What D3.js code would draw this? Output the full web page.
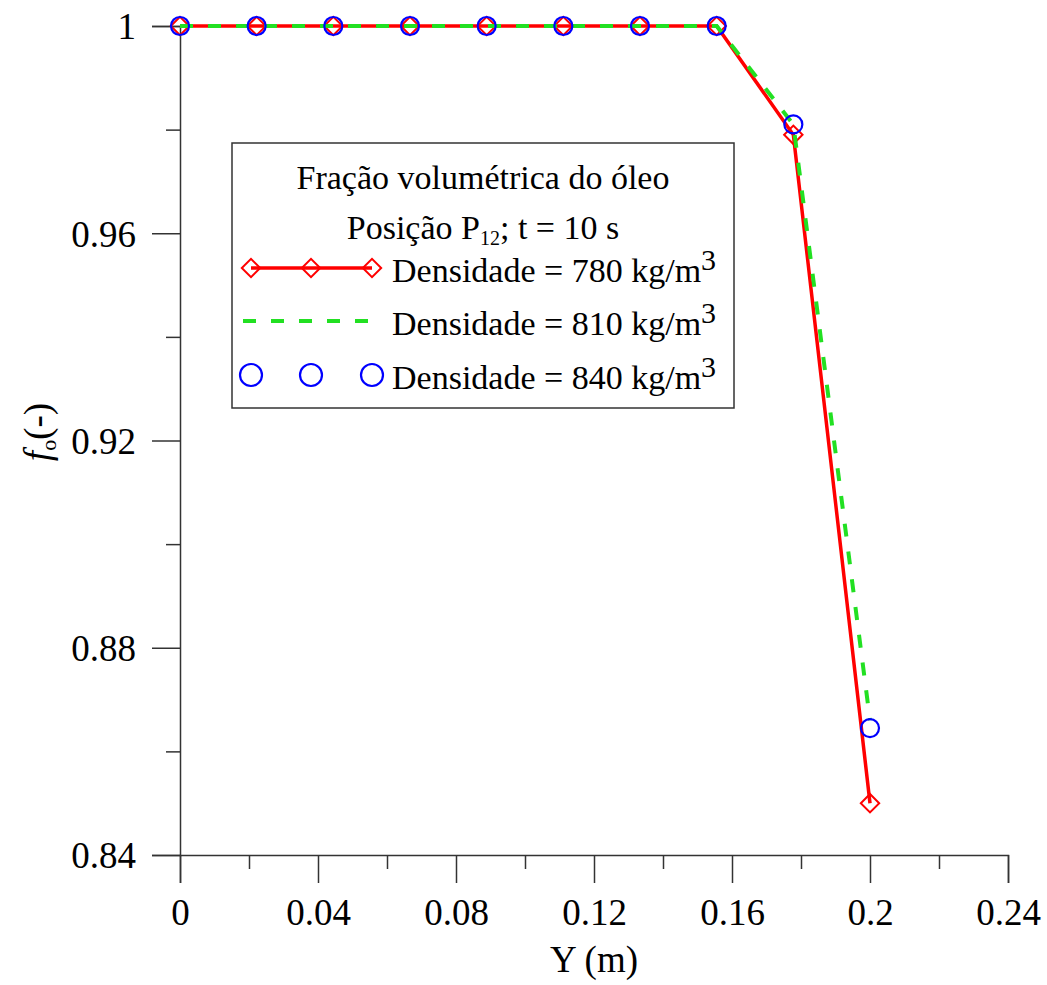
<!DOCTYPE html>
<html><head><meta charset="utf-8">
<script src="https://cdn.jsdelivr.net/npm/d3@7"></script>
<style>body{margin:0;background:#fff}svg text{font-family:"Liberation Serif","Times New Roman",serif;fill:#000}</style>
</head><body><svg id="c" width="1047" height="985"></svg>
<script>
const yPos = [0, 0.02222, 0.04444, 0.06667, 0.08889, 0.11111, 0.13333, 0.15556, 0.17778, 0.2];
const f780 = [1, 1, 1, 1, 1, 1, 1, 1, 0.979, 0.85];
const f810 = [1, 1, 1, 1, 1, 1, 1, 1, 0.981, 0.866];
const f840 = [1, 1, 1, 1, 1, 1, 1, 1, 0.981, 0.8645];
const xTicks = [0, 0.04, 0.08, 0.12, 0.16, 0.2, 0.24];
const xMinor = [0.02, 0.06, 0.1, 0.14, 0.18, 0.22];
const yTicks = [0.84, 0.88, 0.92, 0.96, 1];
const yMinor = [0.86, 0.9, 0.94, 0.98];
const legendTitle = ["Fração volumétrica do óleo", "Posição P", "12", "; t = 10 s"];
const seriesNames = ["Densidade = 780 kg/m", "Densidade = 810 kg/m", "Densidade = 840 kg/m"];

const svg = d3.select("#c");
const x = d3.scaleLinear().domain([0, 0.24]).range([180, 1008]);
const y = d3.scaleLinear().domain([0.84, 1]).range([855, 26]);
const axisColor = "#333";
const fmt = d => String(+d.toFixed(2));

const gx = svg.append("g").attr("transform", "translate(0,855)");
gx.call(d3.axisBottom(x).tickValues(xTicks).tickSize(28).tickPadding(16).tickFormat(fmt));
gx.append("g").call(d3.axisBottom(x).tickValues(xMinor).tickSize(14).tickFormat(""));
const gy = svg.append("g").attr("transform", "translate(180,0)");
gy.call(d3.axisLeft(y).tickValues(yTicks).tickSize(28).tickPadding(16).tickFormat(fmt));
gy.append("g").call(d3.axisLeft(y).tickValues(yMinor).tickSize(14).tickFormat(""));
svg.selectAll(".domain").attr("stroke", axisColor).attr("stroke-width", 1.5);
svg.selectAll(".tick line").attr("stroke", axisColor).attr("stroke-width", 1.5);
gx.selectAll(".tick text").style("font-size", "37px").style("font-family", "Liberation Serif");
gy.selectAll(".tick text").style("font-size", "37px").style("font-family", "Liberation Serif").attr("dy", "0.35em");
gx.selectAll("g g .domain").remove();
gy.selectAll("g g .domain").remove();

svg.append("text").attr("x", 594).attr("y", 972).attr("text-anchor", "middle").style("font-size", "37px").text("Y (m)");
const yl = svg.append("text").attr("transform", "translate(50,432) rotate(-90)").attr("text-anchor", "middle").style("font-size", "37px");
yl.append("tspan").style("font-style", "italic").text("f");
yl.append("tspan").attr("dy", 6).style("font-size", "22px").text("o");
yl.append("tspan").attr("dy", -6).text("(-)");

const line = d3.line().x((d, i) => x(yPos[i])).y(d => y(d));
const diamond = d3.symbol().type(d3.symbolSquare).size(13 * 13);

// red
svg.append("path").datum(f780).attr("d", line).attr("fill", "none").attr("stroke", "#ff0000").attr("stroke-width", 3.5);
svg.selectAll(".dm").data(f780).enter().append("path").attr("d", diamond)
  .attr("transform", (d, i) => `translate(${x(yPos[i])},${y(d)}) rotate(45)`)
  .attr("fill", "none").attr("stroke", "#ff0000").attr("stroke-width", 2);
// green
svg.append("path").datum(f810).attr("d", line).attr("fill", "none").attr("stroke", "#22e022").attr("stroke-width", 4).attr("stroke-dasharray", "13,15");
// blue
svg.selectAll(".ci").data(f840).enter().append("circle")
  .attr("cx", (d, i) => x(yPos[i])).attr("cy", d => y(d)).attr("r", 9)
  .attr("fill", "none").attr("stroke", "#0000ff").attr("stroke-width", 2.2);

// legend
const lg = svg.append("g");
lg.append("rect").attr("x", 232).attr("y", 143).attr("width", 502).attr("height", 265).attr("fill", "#fff").attr("stroke", "#333").attr("stroke-width", 1.5);
lg.append("text").attr("x", 483).attr("y", 189).attr("text-anchor", "middle").style("font-size", "34px").text(legendTitle[0]);
const t2 = lg.append("text").attr("x", 483).attr("y", 239).attr("text-anchor", "middle").style("font-size", "34px");
t2.append("tspan").text(legendTitle[1]);
t2.append("tspan").attr("dy", 6).style("font-size", "20px").text(legendTitle[2]);
t2.append("tspan").attr("dy", -6).text(legendTitle[3]);
const rows = [268, 321, 375];
const mx = [251, 311, 372];
lg.append("line").attr("x1", 251).attr("x2", 372).attr("y1", rows[0]).attr("y2", rows[0]).attr("stroke", "#ff0000").attr("stroke-width", 3.5);
mx.forEach(m => lg.append("path").attr("d", diamond).attr("transform", `translate(${m},${rows[0]}) rotate(45)`).attr("fill", "none").attr("stroke", "#ff0000").attr("stroke-width", 2));
lg.append("line").attr("x1", 243).attr("x2", 372).attr("y1", rows[1]).attr("y2", rows[1]).attr("stroke", "#22e022").attr("stroke-width", 4).attr("stroke-dasharray", "13,15");
mx.forEach(m => lg.append("circle").attr("cx", m).attr("cy", rows[2]).attr("r", 11).attr("fill", "none").attr("stroke", "#0000ff").attr("stroke-width", 2.2));
seriesNames.forEach((s, i) => {
  const t = lg.append("text").attr("x", 392).attr("y", rows[i] + 14).style("font-size", "34px");
  t.append("tspan").text(s);
  t.append("tspan").attr("dy", -12).style("font-size", "30px").text("3");
});
</script></body></html>
